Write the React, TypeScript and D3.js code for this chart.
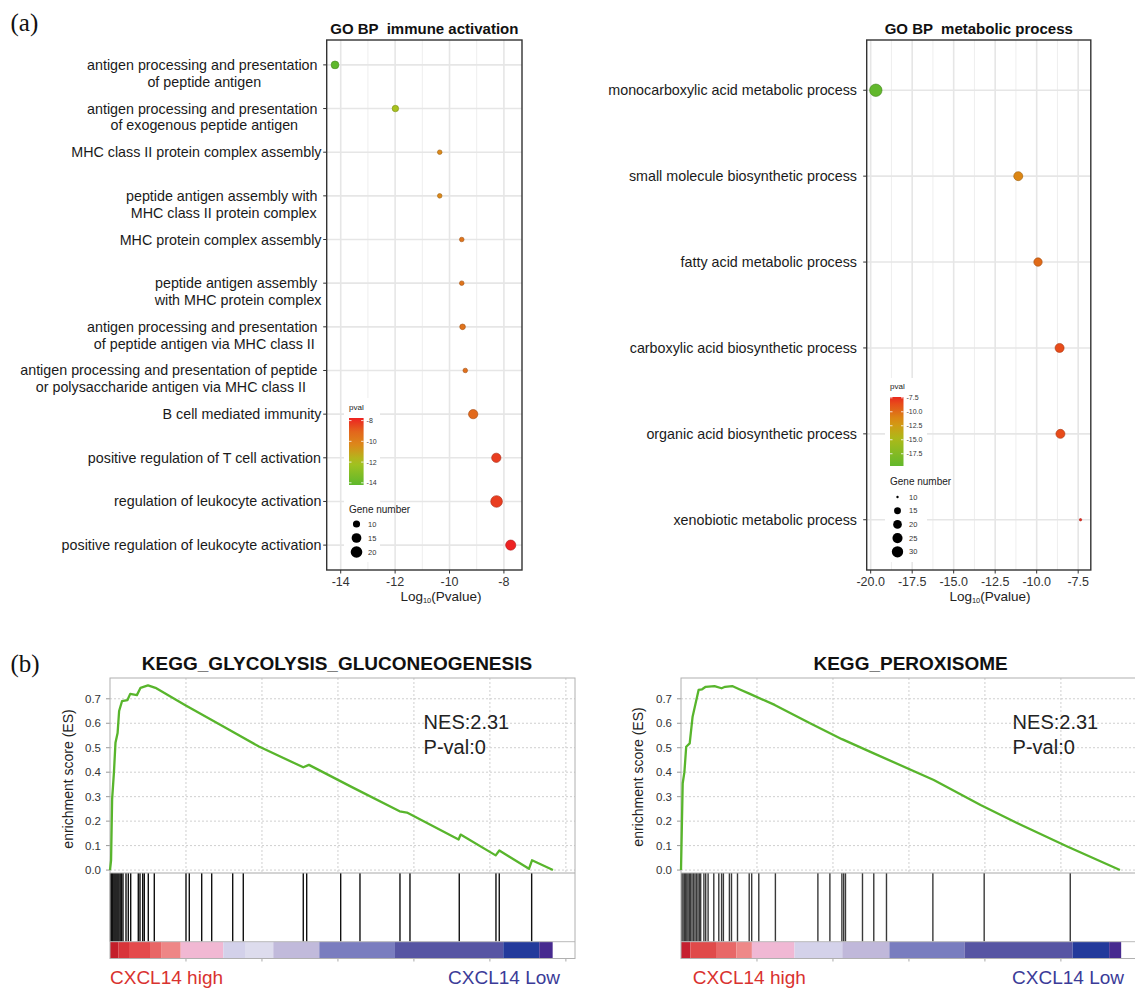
import React from 'react';
import * as d3 from 'd3';

const FONT = '"Liberation Sans", Arial, Helvetica, sans-serif';
const SERIF = '"Liberation Serif", "Times New Roman", serif';

// (a) GO BP immune activation
const immuneTerms = [
  'antigen processing and presentation \nof peptide antigen',
  'antigen processing and presentation \nof exogenous peptide antigen',
  'MHC class II protein complex assembly',
  'peptide antigen assembly with \nMHC class II protein complex',
  'MHC protein complex assembly',
  'peptide antigen assembly \nwith MHC protein complex',
  'antigen processing and presentation \nof peptide antigen via MHC class II',
  'antigen processing and presentation of peptide \nor polysaccharide antigen via MHC class II',
  'B cell mediated immunity',
  'positive regulation of T cell activation',
  'regulation of leukocyte activation',
  'positive regulation of leukocyte activation',
];
const immuneLogP = [-14.21, -11.99, -10.36, -10.36, -9.55, -9.55, -9.52, -9.42, -9.13, -8.28, -8.27, -7.75];
const immuneGenes = [11, 9, 7, 7, 7, 7, 8, 7, 14, 14, 20, 16];
const immuneTicks = [-14, -12, -10, -8];
const immuneMinor = [-13, -11, -9];
const immuneColorTicks = [-8, -10, -12, -14];
const immuneSizeLegend = [10, 15, 20];

// (a) GO BP metabolic process
const metabolicTerms = [
  'monocarboxylic acid metabolic process',
  'small molecule biosynthetic process',
  'fatty acid metabolic process',
  'carboxylic acid biosynthetic process',
  'organic acid biosynthetic process',
  'xenobiotic metabolic process',
];
const metabolicLogP = [-19.69, -11.11, -9.92, -8.62, -8.57, -7.36];
const metabolicGenes = [35, 21, 19, 21, 21, 10];
const metabolicTicks = [-20, -17.5, -15, -12.5, -10, -7.5];
const metabolicMinor = [-18.75, -16.25, -13.75, -11.25, -8.75];
const metabolicColorTicks = [-7.5, -10, -12.5, -15, -17.5];
const metabolicSizeLegend = [10, 15, 20, 25, 30];

// (b) GSEA running enrichment score, hits and ranked-list strip
const esTicks = [0, 0.1, 0.2, 0.3, 0.4, 0.5, 0.6, 0.7];
const rankGrid = [5000, 10000, 15000, 20000, 25000, 30000];

const glycoRank = [0, 70, 140, 260, 360, 500, 600, 790, 1150, 1330, 1770, 2010, 2500, 2990, 4930, 7370, 9800, 12720, 13090, 15890, 19060, 19540, 22940, 23070, 25380, 25620, 27570, 27770, 29150];
const glycoES = [0, 0.04, 0.29, 0.4, 0.52, 0.56, 0.65, 0.69, 0.695, 0.72, 0.715, 0.745, 0.755, 0.745, 0.675, 0.59, 0.505, 0.42, 0.43, 0.34, 0.24, 0.235, 0.125, 0.145, 0.06, 0.08, 0.005, 0.04, 0];
const glycoHits = [33, 99, 151, 197, 263, 329, 395, 461, 526, 592, 671, 757, 855, 1053, 1204, 1362, 1862, 1974, 2152, 2257, 2520, 2915, 5001, 5218, 6034, 6692, 8074, 8771, 12719, 12943, 15180, 16450, 19082, 19740, 22984, 25399, 25616, 27748];
const glycoStripEnd = [546, 1250, 2632, 3402, 4652, 7455, 8883, 10745, 13772, 18753, 25879, 28248, 29130];
const glycoStripColor = ['#c41e2a', '#d8343a', '#e44a4c', '#e86666', '#ee8686', '#f1b8d3', '#d3d1ea', '#dddced', '#c1badb', '#7a7dbf', '#5755a3', '#233a9b', '#472a8f'];

const peroRank = [0, 112, 224, 342, 572, 763, 1158, 1388, 1625, 2204, 2671, 2902, 3369, 3836, 4533, 6165, 8494, 10593, 12686, 16634, 19713, 22391, 25418, 28886];
const peroES = [0, 0.355, 0.4, 0.504, 0.518, 0.627, 0.736, 0.739, 0.749, 0.752, 0.743, 0.749, 0.752, 0.739, 0.72, 0.675, 0.6, 0.535, 0.477, 0.368, 0.266, 0.184, 0.096, 0];
const peroHits = [53, 132, 217, 296, 382, 461, 546, 625, 724, 823, 921, 1020, 1119, 1217, 1296, 1507, 1625, 1783, 2158, 2487, 2671, 2790, 3185, 3323, 3718, 4488, 4652, 5119, 6212, 9008, 9798, 10587, 10706, 10824, 11943, 12686, 13522, 16575, 19951, 25616];
const peroStripEnd = [619, 2303, 3652, 4665, 7468, 10613, 13712, 18654, 25773, 28176, 28966];
const peroStripColor = ['#c62030', '#e04a4a', '#e86868', '#ee8888', '#f0b8d4', '#d4d2ea', '#c0b8da', '#797dbf', '#5755a3', '#233a9b', '#472a8f'];

let measureCtx: CanvasRenderingContext2D | null = null;
function textWidth(s: string, font: string) {
  if (!measureCtx) measureCtx = document.createElement('canvas').getContext('2d');
  if (!measureCtx) return s.length * 7;
  measureCtx.font = font;
  return measureCtx.measureText(s).width;
}

const fmtInt = (v: number) => String(v);
const fmt1 = (v: number) => v.toFixed(1);

function DotPanel(p: any) {
  const [L, T, R, B] = p.box;
  const x = d3.scaleLinear().domain(p.xDomain).range([L, R]);
  const y = d3.scalePoint<string>().domain(p.terms).range([T, B]).padding(p.rowPad);
  const color = d3.scaleLinear<string>().domain(p.colorStops).range(p.colorRange).interpolate(d3.interpolateRgb);
  const rs = d3.scaleSqrt().domain([0, p.sizeMax - p.sizeMin]).range(p.rRange);
  const radius = (n: number) => rs(Math.max(0, n - p.sizeMin));
  const ext = d3.extent(p.logp as number[]) as [number, number];
  const cb = p.cbar;
  const cy = d3.scaleLinear().domain(ext).range([cb.y + cb.h, cb.y]);
  const labelFont = `14.3px "Liberation Sans"`;
  const gid = 'grad-' + p.id;
  const gradStops = d3.range(0, 1.0001, 0.1);

  return (
    <g fontFamily={FONT}>
      <defs>
        <linearGradient id={gid} x1="0" y1="1" x2="0" y2="0">
          {gradStops.map((t) => (
            <stop key={t} offset={t} stopColor={color(ext[0] + t * (ext[1] - ext[0]))} />
          ))}
        </linearGradient>
      </defs>
      <text x={(L + R) / 2} y={T - 6.5} textAnchor="middle" fontSize={15} fontWeight="bold" fill="#111" style={{ whiteSpace: 'pre' }}>
        {p.title}
      </text>
      {/* grid */}
      {p.minor.map((v: number) => (
        <line key={'mn' + v} x1={x(v)} x2={x(v)} y1={T} y2={B} stroke="#eeeeee" strokeWidth={1} />
      ))}
      {p.ticks.map((v: number) => (
        <line key={'mj' + v} x1={x(v)} x2={x(v)} y1={T} y2={B} stroke="#e6e6e6" strokeWidth={1.6} />
      ))}
      {p.terms.map((t: string) => (
        <line key={'h' + t} x1={L} x2={R} y1={y(t)} y2={y(t)} stroke="#e6e6e6" strokeWidth={1.6} />
      ))}
      {/* legend background */}
      <rect x={p.legendBox[0]} y={p.legendBox[1]} width={p.legendBox[2]} height={p.legendBox[3]} fill="#fff" />
      {/* points */}
      {p.terms.map((t: string, i: number) => {
        const c = color(p.logp[i]);
        return (
          <circle key={'pt' + i} cx={x(p.logp[i])} cy={y(t)} r={radius(p.genes[i])} fill={c}
            stroke={d3.color(c)!.darker(0.9).formatHex()} strokeWidth={0.6} />
        );
      })}
      <rect x={L} y={T} width={R - L} height={B - T} fill="none" stroke="#333" strokeWidth={1.4} />
      {/* y axis */}
      {p.terms.map((t: string) => {
        const lines = t.split('\n');
        const ws = lines.map((l) => textWidth(l, labelFont));
        const bw = Math.max(...ws);
        const cx = p.labelRight - bw / 2;
        return (
          <g key={'yl' + t}>
            <line x1={L - 3.5} x2={L} y1={y(t)} y2={y(t)} stroke="#333" strokeWidth={1} />
            {lines.map((l, k) => (
              <text key={k} x={cx - ws[k] / 2} y={y(t)! + k * 16.7} dy="0.35em" fontSize={14.3} fill="#1a1a1a" style={{ whiteSpace: 'pre' }}>
                {l}
              </text>
            ))}
          </g>
        );
      })}
      {/* x axis */}
      {p.ticks.map((v: number) => (
        <g key={'xt' + v}>
          <line x1={x(v)} x2={x(v)} y1={B} y2={B + 3.5} stroke="#333" strokeWidth={1} />
          <text x={x(v)} y={B + 12} dy="0.35em" textAnchor="middle" fontSize={12.5} fill="#333">
            {p.tickFmt(v)}
          </text>
        </g>
      ))}
      <text x={p.xTitleX} y={B + 31} textAnchor="middle" fontSize={13.5} fill="#222">
        Log<tspan fontSize={7.5} dy={2}>10</tspan>
        <tspan dy={-2}>(Pvalue)</tspan>
      </text>
      {/* colour legend */}
      <text x={cb.x} y={cb.y - 8} fontSize={8} fill="#222">pval</text>
      <rect x={cb.x} y={cb.y} width={cb.w} height={cb.h} fill={`url(#${gid})`} />
      {p.colorTicks.map((v: number) => (
        <g key={'cb' + v}>
          <line x1={cb.x} x2={cb.x + 2.5} y1={cy(v)} y2={cy(v)} stroke="#fff" strokeWidth={0.8} />
          <line x1={cb.x + cb.w - 2.5} x2={cb.x + cb.w} y1={cy(v)} y2={cy(v)} stroke="#fff" strokeWidth={0.8} />
          <text x={cb.x + cb.w + 3} y={cy(v)} dy="0.35em" fontSize={7} fill="#333">
            {p.colorFmt(v)}
          </text>
        </g>
      ))}
      {/* size legend */}
      <text x={cb.x} y={p.gene.titleY} dy="0.35em" fontSize={10} fill="#222">Gene number</text>
      {p.sizeLegend.map((n: number, i: number) => (
        <g key={'sl' + n}>
          <circle cx={p.gene.x} cy={p.gene.y + i * p.gene.step} r={radius(n)} fill="#000" />
          <text x={p.gene.labelX} y={p.gene.y + i * p.gene.step} dy="0.35em" fontSize={7.5} fill="#333">{n}</text>
        </g>
      ))}
    </g>
  );
}

function GseaPanel(p: any) {
  const L = p.left;
  const W = 465;
  const top = 678;
  const div1 = 873;
  const stripTop = 941.7;
  const bottom = 958.5;
  const x = d3.scaleLinear().domain([0, 30600]).range([L, L + W]);
  const y = d3.scaleLinear().domain([-0.012, 0.785]).range([div1, top]);
  const path = d3.line<number>().x((_, i) => x(p.ranks[i])).y((d) => y(d))(p.es) || '';
  const starts = [0, ...p.stripEnd.slice(0, -1)];
  return (
    <g fontFamily={FONT}>
      <text x={p.titleX} y={669.5} textAnchor="middle" fontSize={19} fontWeight="bold" fill="#111">{p.title}</text>
      {esTicks.map((v) => (
        <g key={'es' + v}>
          <line x1={L} x2={L + W} y1={y(v)} y2={y(v)} stroke="#cfcfcf" strokeWidth={1} strokeDasharray="2,2" />
          <line x1={L - 4} x2={L} y1={y(v)} y2={y(v)} stroke="#999" strokeWidth={1} />
          <text x={L - 9} y={y(v)} dy="0.35em" textAnchor="end" fontSize={11.5} fill="#333">{v.toFixed(1)}</text>
        </g>
      ))}
      {rankGrid.map((v) => (
        <g key={'rg' + v}>
          <line x1={x(v)} x2={x(v)} y1={top} y2={div1} stroke="#cfcfcf" strokeWidth={1} strokeDasharray="2,2" />
          <line x1={x(v)} x2={x(v)} y1={bottom} y2={bottom + 3} stroke="#aaa" strokeWidth={1} />
        </g>
      ))}
      {p.stripEnd.map((e: number, i: number) => (
        <rect key={'st' + i} x={x(starts[i])} y={stripTop} width={x(e) - x(starts[i])} height={bottom - stripTop} fill={p.stripColor[i]} />
      ))}
      {p.hits.map((h: number, i: number) => (
        <line key={'hit' + i} x1={x(h)} x2={x(h)} y1={div1} y2={stripTop} stroke={p.hitColor} strokeWidth={1.4} />
      ))}
      <line x1={L} x2={L + W} y1={div1} y2={div1} stroke="#a8a8a8" strokeWidth={1} />
      <line x1={L} x2={L + W} y1={stripTop} y2={stripTop} stroke="#bbb" strokeWidth={1} />
      <rect x={L} y={top} width={W} height={bottom - top} fill="none" stroke="#b0b0b0" strokeWidth={1} />
      <path d={path} fill="none" stroke="#58b52c" strokeWidth={2.3} strokeLinejoin="round" />
      <text transform={`translate(${p.yLabelX},${p.yLabelY}) rotate(-90)`} textAnchor="middle" dy="0.35em" fontSize={14} fill="#222">
        enrichment score (ES)
      </text>
      <text x={p.nesX} y={728.7} fontSize={20} fill="#222">NES:2.31</text>
      <text x={p.nesX} y={753.7} fontSize={20} fill="#222">P-val:0</text>
      <text x={p.highX} y={977.5} dy="0.35em" fontSize={19} fill="#d9322f">CXCL14 high</text>
      <text x={p.lowRight} y={977.5} dy="0.35em" textAnchor="end" fontSize={19} fill="#3b3b98">CXCL14 Low</text>
    </g>
  );
}

export default function App() {
  return (
    <svg width={1135} height={991} style={{ position: 'absolute', left: 0, top: 0, background: '#fff' }}>
      <rect width={1135} height={991} fill="#fff" />
      <text x={10.5} y={31} fontFamily={SERIF} fontSize={25} fill="#111">(a)</text>
      <text x={10.5} y={672} fontFamily={SERIF} fontSize={25} fill="#111">(b)</text>

      <DotPanel
        id="immune"
        title="GO BP  immune activation"
        terms={immuneTerms}
        logp={immuneLogP}
        genes={immuneGenes}
        box={[326.7, 40, 522, 570]}
        xDomain={[-14.515, -7.335]}
        ticks={immuneTicks}
        minor={immuneMinor}
        tickFmt={fmtInt}
        rowPad={0.57}
        labelRight={321.5}
        colorStops={[-14.21, -12, -10.4, -9.1, -7.75]}
        colorRange={['#5eb82c', '#a8c21e', '#dc8a1a', '#e2681c', '#ee2222']}
        sizeMin={6}
        sizeMax={21}
        rRange={[1, 6]}
        cbar={{ x: 349, y: 418, w: 14.6, h: 67 }}
        colorTicks={immuneColorTicks}
        colorFmt={fmtInt}
        legendBox={[344, 398, 36, 164]}
        gene={{ x: 356.5, y: 524, step: 14, labelX: 368, titleY: 509 }}
        sizeLegend={immuneSizeLegend}
        xTitleX={441}
      />

      <DotPanel
        id="metabolic"
        title="GO BP  metabolic process"
        terms={metabolicTerms}
        logp={metabolicLogP}
        genes={metabolicGenes}
        box={[866.7, 40, 1090.8, 570]}
        xDomain={[-20.24, -6.74]}
        ticks={metabolicTicks}
        minor={metabolicMinor}
        tickFmt={fmt1}
        rowPad={0.585}
        labelRight={857}
        colorStops={[-19.69, -15, -12.5, -11.1, -9.9, -8.6, -7.36]}
        colorRange={['#62b82c', '#a9bb1a', '#d09c14', '#dc8614', '#e06a18', '#e84c1a', '#e82a1e']}
        sizeMin={10}
        sizeMax={35}
        rRange={[1.2, 6.2]}
        cbar={{ x: 890, y: 397, w: 13.5, h: 69 }}
        colorTicks={metabolicColorTicks}
        colorFmt={fmt1}
        legendBox={[885, 378, 42, 184]}
        gene={{ x: 897.5, y: 497, step: 13.7, labelX: 909, titleY: 481 }}
        sizeLegend={metabolicSizeLegend}
        xTitleX={990}
      />

      <GseaPanel
        left={110}
        title="KEGG_GLYCOLYSIS_GLUCONEOGENESIS"
        titleX={337}
        ranks={glycoRank}
        es={glycoES}
        hits={glycoHits}
        hitColor="#111"
        stripEnd={glycoStripEnd}
        stripColor={glycoStripColor}
        yLabelX={68.5}
        yLabelY={779}
        nesX={423.6}
        highX={110}
        lowRight={560}
      />

      <GseaPanel
        left={681}
        title="KEGG_PEROXISOME"
        titleX={910.6}
        ranks={peroRank}
        es={peroES}
        hits={peroHits}
        hitColor="#3a3a3a"
        stripEnd={peroStripEnd}
        stripColor={peroStripColor}
        yLabelX={638.4}
        yLabelY={777}
        nesX={1012.6}
        highX={692.8}
        lowRight={1124}
      />
    </svg>
  );
}
